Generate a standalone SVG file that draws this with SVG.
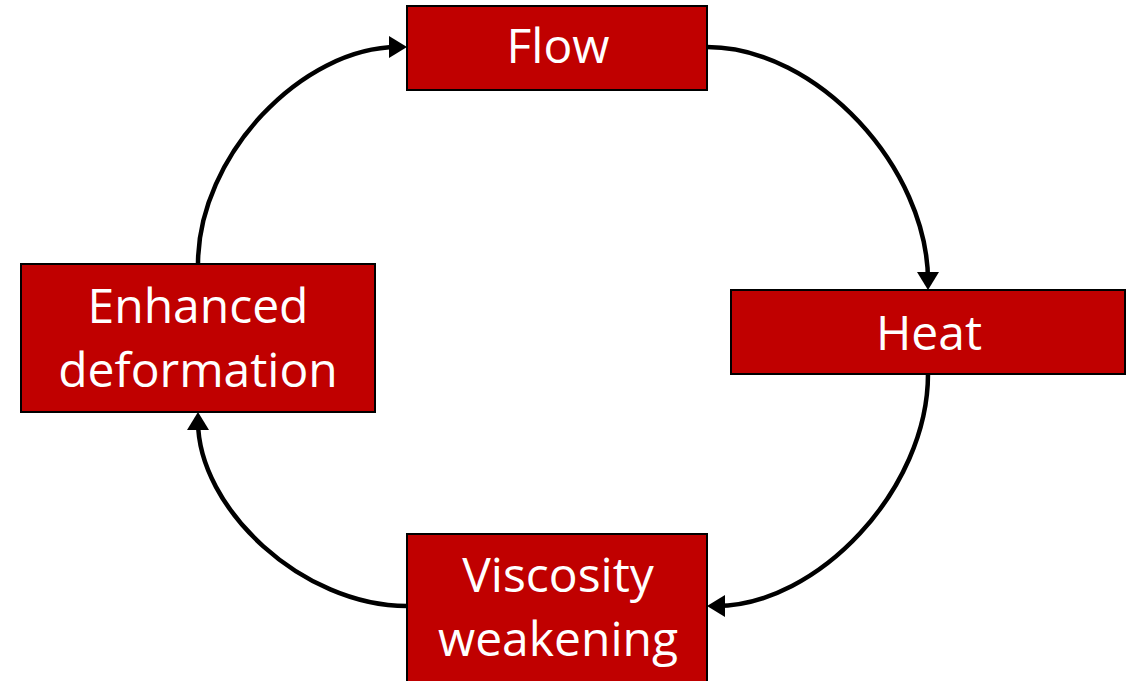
<svg xmlns="http://www.w3.org/2000/svg" width="1130" height="681" viewBox="0 0 1130 681">
<style>
.box{fill:#C00000;stroke:#000;stroke-width:2}
.lbl{font-family:"Open Sans","Liberation Sans",sans-serif;font-size:48px;fill:#fff;text-anchor:middle}
.conn{fill:none;stroke:#000;stroke-width:4.5}
</style>
<defs>
<marker id="arr" markerUnits="userSpaceOnUse" markerWidth="20" markerHeight="24" viewBox="0 -12 20 24" refX="9" refY="0" orient="auto">
<path d="M0,-11 L18,0 L0,11 z" fill="#000"/>
</marker>
</defs>
<rect width="1130" height="681" fill="#fff"/>
<g id="connectors">
<path class="conn" d="M707,47 C817.5,47 928,168.5 928,281" marker-end="url(#arr)"/>
<path class="conn" d="M928,374 C928,489.5 817.5,606 716,606" marker-end="url(#arr)"/>
<path class="conn" d="M407,606 C302.5,606 198,508.5 198,421" marker-end="url(#arr)"/>
<path class="conn" d="M198,264 C198,155.5 302.5,47 398,47" marker-end="url(#arr)"/>
</g>
<g id="flow">
<rect class="box" x="407" y="6" width="300" height="84"/>
<text class="lbl" x="558" y="63">Flow</text>
</g>
<g id="heat">
<rect class="box" x="731" y="290" width="394" height="84"/>
<text class="lbl" x="929" y="350">Heat</text>
</g>
<g id="viscosity">
<rect class="box" x="407" y="534" width="300" height="152"/>
<text class="lbl" x="558" y="592">Viscosity</text>
<text class="lbl" x="558" y="656">weakening</text>
</g>
<g id="enhanced">
<rect class="box" x="21" y="264" width="354" height="148"/>
<text class="lbl" x="198" y="323">Enhanced</text>
<text class="lbl" x="198" y="387">deformation</text>
</g>
</svg>
